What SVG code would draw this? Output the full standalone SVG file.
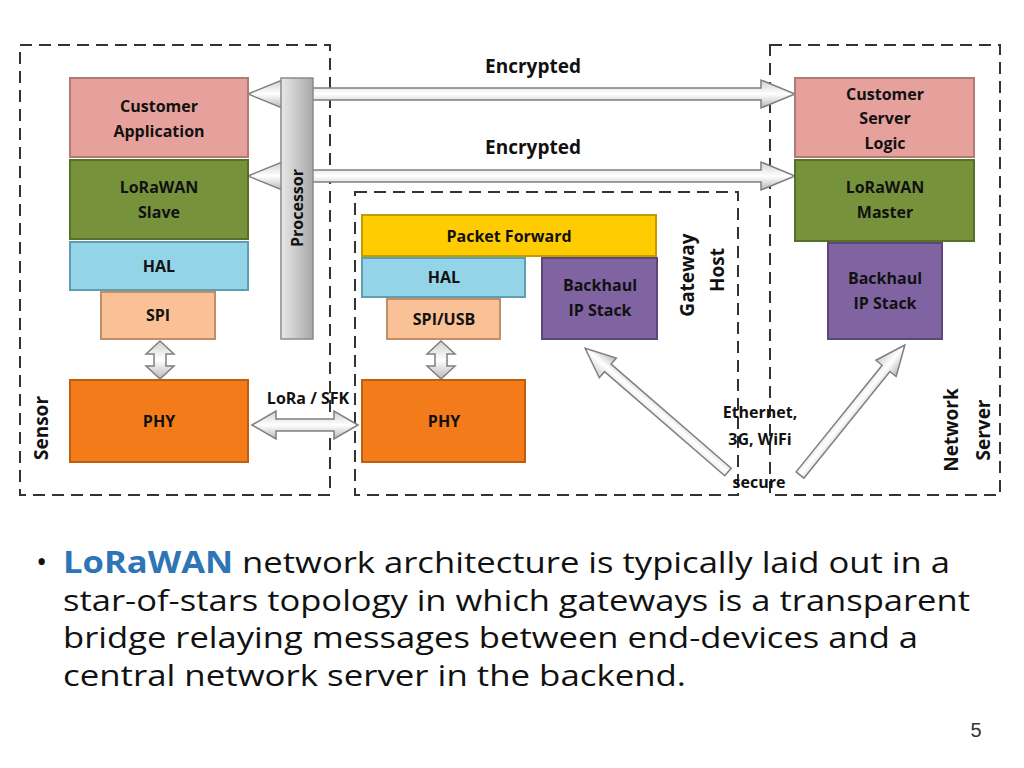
<svg xmlns="http://www.w3.org/2000/svg" width="1024" height="768" viewBox="0 0 1024 768">
<defs>
<linearGradient id="ag" x1="0" y1="0" x2="0" y2="1"><stop offset="0" stop-color="#d0d0d0"/><stop offset="0.5" stop-color="#ffffff"/><stop offset="1" stop-color="#b8b8b8"/></linearGradient>
<linearGradient id="pg" x1="0" y1="0" x2="1" y2="0"><stop offset="0" stop-color="#e8e8e8"/><stop offset="0.5" stop-color="#c8c8c8"/><stop offset="1" stop-color="#a8a8a8"/></linearGradient>
</defs>
<style>
.dash{fill:none;stroke:#333;stroke-width:2;stroke-dasharray:12,7}
.lbl{font-family:"Open Sans","Liberation Sans",Arial,sans-serif;font-weight:bold;font-size:16px;fill:#111;text-anchor:middle}
.big{font-family:"Open Sans","Liberation Sans",Arial,sans-serif;font-weight:bold;font-size:19px;fill:#111;text-anchor:middle}
.arr{fill:url(#ag);stroke:#7f7f7f;stroke-width:1.5}
.pink{fill:#e6a19c;stroke:#b07a76;stroke-width:2}
.green{fill:#76933c;stroke:#56702a;stroke-width:2}
.blue{fill:#93d4e8;stroke:#5f9db0;stroke-width:2}
.peach{fill:#fac196;stroke:#c08f68;stroke-width:2}
.orange{fill:#f47b1a;stroke:#c05e10;stroke-width:2}
.yellow{fill:#ffcc00;stroke:#c49c00;stroke-width:2}
.purple{fill:#8064a2;stroke:#5d4679;stroke-width:2}
.body{font-family:"Open Sans","Liberation Sans",sans-serif;font-size:30px;fill:#111}
</style>
<rect class="dash" x="20" y="45" width="310" height="450"/>
<rect class="dash" x="355" y="192" width="383" height="303"/>
<rect class="dash" x="770" y="45" width="230" height="450"/>
<g id="connectors">
<path class="arr" d="M248,94 L282,80 L282,88 L761,88 L761,80 L795,94 L761,108 L761,100 L282,100 L282,108 Z"/>
<path class="arr" d="M248,176 L282,162 L282,170 L761,170 L761,162 L795,176 L761,190 L761,182 L282,182 L282,190 Z"/>
<path class="arr" d="M252,425 L276,411 L276,419 L334,419 L334,411 L358,425 L334,439 L334,431 L276,431 L276,439 Z"/>
<path class="arr" d="M160,341 L174,354 L166,354 L166,366 L174,366 L160,379 L146,366 L154,366 L154,354 L146,354 Z"/>
<path class="arr" d="M441,341 L455,354 L447,354 L447,366 L455,366 L441,379 L427,366 L435,366 L435,354 L427,354 Z"/>
<path class="arr" transform="translate(728,472) rotate(220.9)" d="M0,-5 L159,-5 L159,-13 L189,0 L159,13 L159,5 L0,5 Z"/>
<path class="arr" transform="translate(800,475) rotate(-51.1)" d="M0,-5 L137,-5 L137,-13 L167,0 L137,13 L137,5 L0,5 Z"/>
</g>
<g id="processor"><rect x="281" y="78" width="32" height="261" fill="url(#pg)" stroke="#8a8a8a" stroke-width="1.5"/>
<text class="lbl" transform="translate(303,208) rotate(-90)">Processor</text></g>
<g id="custapp"><rect class="pink" x="70" y="78" width="178" height="79"/><text class="lbl" x="159" y="112">Customer</text><text class="lbl" x="159" y="137">Application</text></g>
<g id="slave"><rect class="green" x="70" y="160" width="178" height="79"/><text class="lbl" x="159" y="193">LoRaWAN</text><text class="lbl" x="159" y="218">Slave</text></g>
<g id="hal1"><rect class="blue" x="70" y="242" width="178" height="48"/><text class="lbl" x="159" y="272">HAL</text></g>
<g id="spi"><rect class="peach" x="101" y="292" width="114" height="47"/><text class="lbl" x="158" y="321">SPI</text></g>
<g id="phy1"><rect class="orange" x="70" y="380" width="178" height="82"/><text class="lbl" x="159" y="427">PHY</text></g>
<g id="pf"><rect class="yellow" x="362" y="215" width="294" height="41"/><text class="lbl" x="509" y="242">Packet Forward</text></g>
<g id="hal2"><rect class="blue" x="362" y="258" width="163" height="39"/><text class="lbl" x="444" y="283">HAL</text></g>
<g id="spiusb"><rect class="peach" x="387" y="299" width="113" height="40"/><text class="lbl" x="444" y="325">SPI/USB</text></g>
<g id="bh1"><rect class="purple" x="542" y="258" width="115" height="81"/><text class="lbl" x="600" y="291">Backhaul</text><text class="lbl" x="600" y="316">IP Stack</text></g>
<g id="phy2"><rect class="orange" x="362" y="380" width="163" height="82"/><text class="lbl" x="444" y="427">PHY</text></g>
<g id="csl"><rect class="pink" x="795" y="78" width="179" height="79"/><text class="lbl" x="885" y="100">Customer</text><text class="lbl" x="885" y="124">Server</text><text class="lbl" x="885" y="149">Logic</text></g>
<g id="master"><rect class="green" x="795" y="160" width="179" height="81"/><text class="lbl" x="885" y="193">LoRaWAN</text><text class="lbl" x="885" y="218">Master</text></g>
<g id="bh2"><rect class="purple" x="828" y="243" width="114" height="96"/><text class="lbl" x="885" y="284">Backhaul</text><text class="lbl" x="885" y="309">IP Stack</text></g>
<text class="big" x="533" y="73">Encrypted</text>
<text class="big" x="533" y="154">Encrypted</text>
<text class="big" transform="translate(48,428) rotate(-90)">Sensor</text>
<text class="big" transform="translate(694,275) rotate(-90)">Gateway</text>
<text class="big" transform="translate(724,270) rotate(-90)">Host</text>
<text class="big" transform="translate(958,430) rotate(-90)">Network</text>
<text class="big" transform="translate(990,430) rotate(-90)">Server</text>
<text class="lbl" x="308" y="404">LoRa / SFK</text>
<text class="lbl" x="760" y="418">Ethernet,</text>
<text class="lbl" x="760" y="445">3G, WiFi</text>
<text class="lbl" x="759" y="488">secure</text>
<text class="body" x="36" y="572" font-size="34">•</text>
<text class="body" x="63" y="573" textLength="887" lengthAdjust="spacingAndGlyphs"><tspan fill="#2e75b6" font-weight="bold">LoRaWAN</tspan> network architecture is typically laid out in a</text>
<text class="body" x="63" y="611" textLength="907" lengthAdjust="spacingAndGlyphs">star-of-stars topology in which gateways is a transparent</text>
<text class="body" x="63" y="648" textLength="855" lengthAdjust="spacingAndGlyphs">bridge relaying messages between end-devices and a</text>
<text class="body" x="63" y="686" textLength="623" lengthAdjust="spacingAndGlyphs">central network server in the backend.</text>
<text x="976" y="737" font-family="Liberation Sans,Arial,sans-serif" font-size="20" fill="#333" text-anchor="middle">5</text>
</svg>
